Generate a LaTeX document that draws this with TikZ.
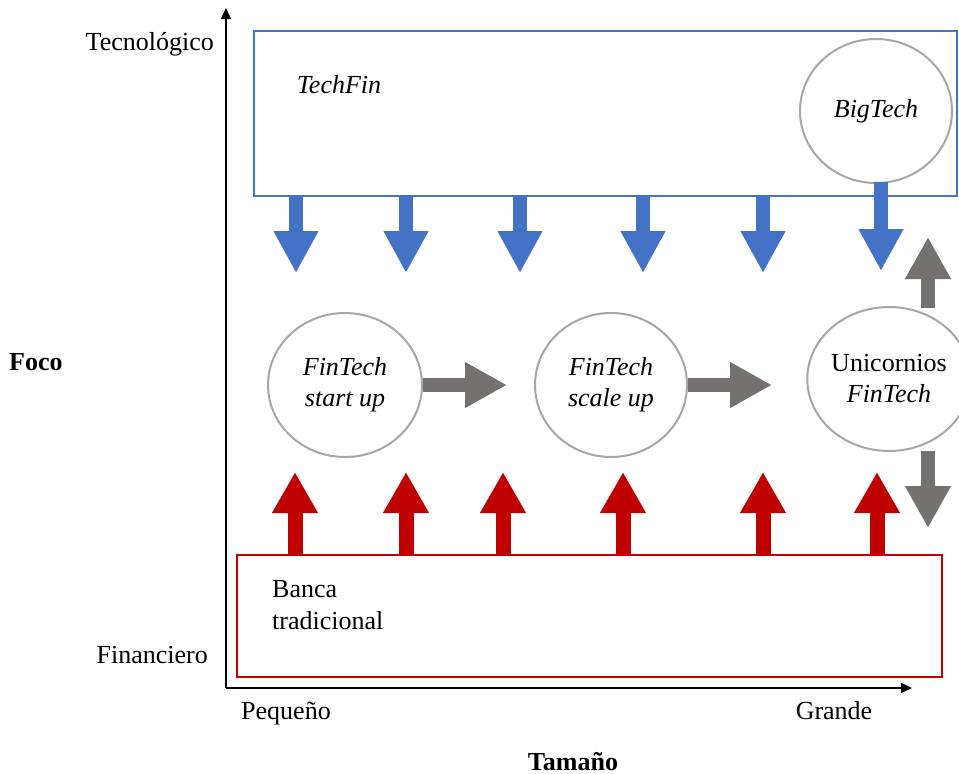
\documentclass[tikz,border=0pt]{standalone}
\usepackage{fontspec}
\setmainfont{Liberation Serif}
\usetikzlibrary{arrows.meta,shapes.geometric}
\definecolor{techblue}{HTML}{4472C4}
\definecolor{bankred}{HTML}{C00000}
\definecolor{flowgray}{HTML}{767171}
\definecolor{ringgray}{HTML}{A6A6A6}
\begin{document}
\begin{tikzpicture}[x=1pt,y=-1pt,
  every node/.style={font=\fontsize{26}{31}\selectfont, inner sep=0pt},
  axis/.style={line width=1.3pt, -{Triangle[width=10pt,length=11pt]}},
  zone/.style={draw, line width=2pt, inner sep=0pt},
  stage/.style={ellipse, draw=ringgray, fill=white, line width=2pt, align=center},
  bluearrow/.style={techblue, line width=14pt, -{Triangle[width=42pt,length=42pt]}},
  redarrow/.style={bankred, line width=15pt, -{Triangle[width=43pt,length=41pt]}},
  grayarrow/.style={flowgray, line width=14pt, -{Triangle[width=43pt,length=42pt]}},
  lbl/.style={anchor=base}]
\useasboundingbox (0,0) rectangle (959,774);

% axes
\coordinate (origin) at (226,688);
\coordinate (ytop) at (226,8);
\coordinate (xend) at (912,688);
\draw[axis] (origin) -- (ytop);
\draw[axis] (origin) -- (xend);

% axis labels
\node[lbl, anchor=base east] (tec) at (214,50) {Tecnológico};
\node[lbl, anchor=base east] (fin) at (208,663) {Financiero};
\node[lbl, anchor=base west] (foco) at (9,370) {\bfseries Foco};
\node[lbl] (peq) at (286,719) {Pequeño};
\node[lbl] (gra) at (834,719) {Grande};
\node[lbl] (tam) at (573,770) {\bfseries Tamaño};

% technology zone and traditional banking zone
\draw[zone, draw=techblue] (254,31) rectangle (957,196);
\draw[zone, draw=bankred] (237,555) rectangle (942,677);
\node[lbl] (techfin) at (339,93) {\itshape TechFin};
\node[anchor=base west] (banca) at (272,597) {Banca};
\node[anchor=base west] (banca2) at (272,629) {tradicional};

% firms
\node[stage, minimum width=152pt, minimum height=144pt] (bigtech) at (876,111) {\itshape BigTech};
\node[stage, minimum width=154pt, minimum height=144pt] (startup) at (345,385) {\itshape FinTech\\\itshape start up};
\node[stage, minimum width=152pt, minimum height=144pt] (scaleup) at (611,385) {\itshape FinTech\\\itshape scale up};
\node[stage, minimum width=146pt, minimum height=144pt] (unicorn) at (889,379) {Unicornios\\\itshape FinTech};

% influence from the technology zone
\foreach \x in {296,406,520,643,763} \draw[bluearrow] (\x,197) -- (\x,273);
\draw[bluearrow] (881,182) -- (881,271);

% influence from traditional banking
\foreach \x in {295,406,503,623,763,877} \draw[redarrow] (\x,555) -- (\x,472);

% growth path
\draw[grayarrow] (startup.east) -- (507,385);
\draw[grayarrow] (scaleup.east) -- (772,385);
\draw[grayarrow] (928,308) -- (928,237);
\draw[grayarrow] (928,451) -- (928,528);
\end{tikzpicture}
\end{document}
